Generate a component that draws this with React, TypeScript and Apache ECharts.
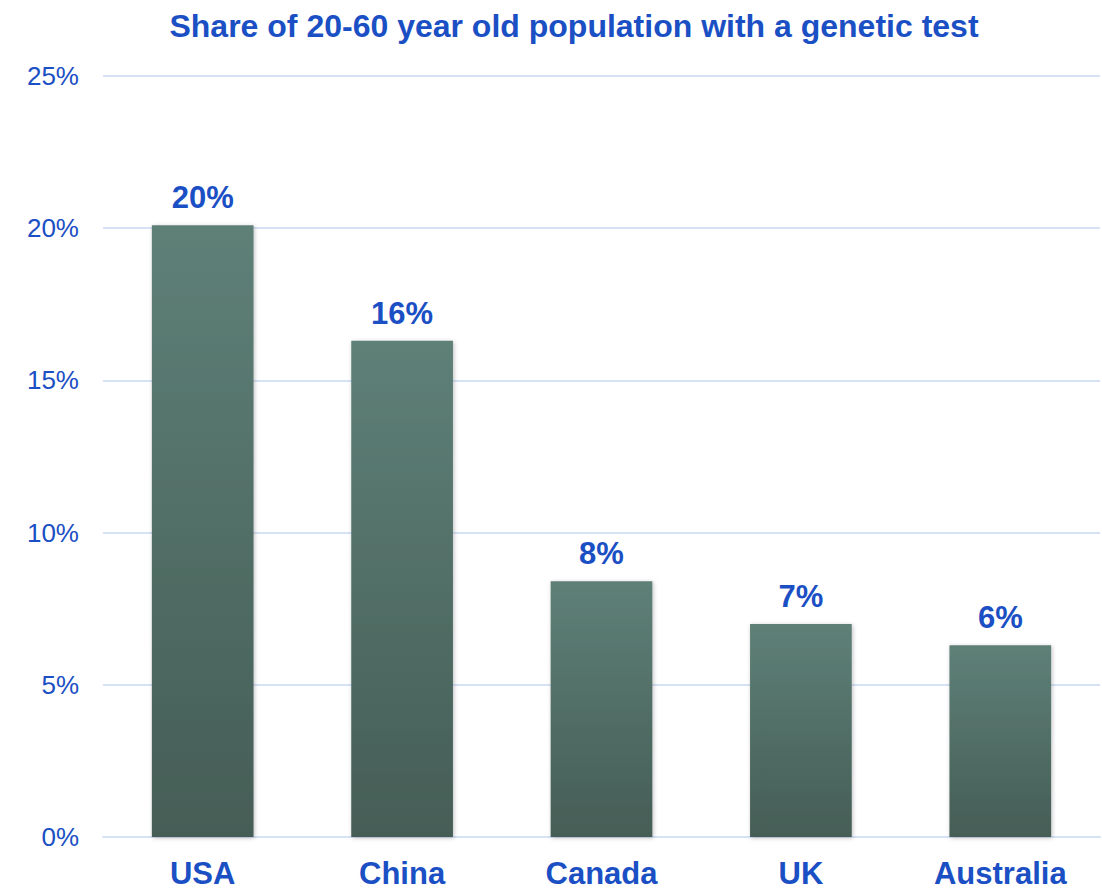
import React, { useEffect, useRef } from "react";
import * as echarts from "echarts";

const countries = ["USA", "China", "Canada", "UK", "Australia"];
const shareWithTest = [20.1, 16.3, 8.4, 7.0, 6.3];
const yTicks = [0, 5, 10, 15, 20, 25];

const BLUE = "#1b4fc4";
const FONT = "'Liberation Sans', Arial, sans-serif";

export default function App() {
  const ref = useRef<HTMLDivElement>(null);

  useEffect(() => {
    if (!ref.current) return;
    const chart = echarts.init(ref.current, null, { renderer: "svg" });
    chart.setOption({
      animation: false,
      backgroundColor: "#ffffff",
      textStyle: { fontFamily: FONT },
      title: {
        text: "Share of 20-60 year old population with a genetic test",
        left: 569,
        textAlign: "center",
        top: 5,
        textStyle: { color: BLUE, fontSize: 32, fontWeight: "bold", fontFamily: FONT },
      },
      grid: { left: 103, right: 2, top: 76, bottom: 58, containLabel: false },
      xAxis: {
        type: "category",
        data: countries,
        axisLine: { show: true, lineStyle: { color: "#d6e2f6", width: 2 } },
        axisTick: { show: false },
        axisLabel: {
          color: BLUE,
          fontSize: 31,
          fontWeight: "bold",
          fontFamily: FONT,
          margin: 21,
          interval: 0,
        },
      },
      yAxis: {
        type: "value",
        min: yTicks[0],
        max: yTicks[yTicks.length - 1],
        interval: 5,
        axisLine: { show: false },
        axisTick: { show: false },
        splitLine: { lineStyle: { color: "#d6e2f6", width: 2 } },
        axisLabel: {
          color: BLUE,
          fontSize: 26,
          fontFamily: FONT,
          margin: 24,
          formatter: (v: number) => `${v}%`,
        },
      },
      series: [
        {
          type: "bar",
          data: shareWithTest,
          barWidth: "51%",
          itemStyle: {
            color: new echarts.graphic.LinearGradient(0, 0, 0, 1, [
              { offset: 0, color: "#5e8077" },
              { offset: 1, color: "#455d56" },
            ]),
            shadowBlur: 4,
            shadowColor: "rgba(0,0,0,0.25)",
            shadowOffsetX: 1,
            shadowOffsetY: 1,
          },
          label: {
            show: true,
            position: "top",
            distance: 12,
            color: BLUE,
            fontSize: 31,
            fontWeight: "bold",
            fontFamily: FONT,
            formatter: (p: any) => `${Math.round(p.value)}%`,
          },
        },
      ],
    });
    return () => chart.dispose();
  }, []);

  return (
    <div
      ref={ref}
      style={{ position: "fixed", left: 0, top: 0, width: 1102, height: 895 }}
    />
  );
}
